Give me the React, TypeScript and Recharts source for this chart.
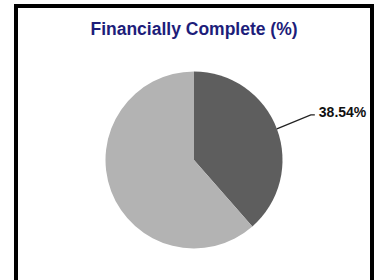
import React from 'react';
import { PieChart, Pie, Cell } from 'recharts';

const title = 'Financially Complete (%)';
const categories = ['Financially Complete', 'Not Financially Complete'];
const values = [38.54, 61.46];
const colors = ['#5e5e5e', '#b3b3b3'];

const data = categories.map((name, i) => ({ name, value: values[i] }));

const RAD = Math.PI / 180;

const renderLabel = (props: any) => {
  const { cx, cy, midAngle, outerRadius, index, value } = props;
  if (index !== 0) return null;
  const sx = cx + outerRadius * Math.cos(-midAngle * RAD);
  const sy = cy + outerRadius * Math.sin(-midAngle * RAD);
  const ex = sx + 34;
  const ey = sy - 14;
  const hx = ex + 4;
  return (
    <g>
      <path d={`M${sx},${sy}L${ex},${ey}L${hx},${ey}`} stroke="#222" strokeWidth={1.3} fill="none" />
      <text x={hx + 4} y={ey + 2} fill="#111" fontSize={14} fontWeight="bold" fontFamily="Liberation Sans, Arial, sans-serif" textAnchor="start">
        {`${value.toFixed(2)}%`}
      </text>
    </g>
  );
};

export default function App() {
  return (
    <div style={{ position: 'absolute', left: 0, top: 0, width: 377, height: 280, background: '#fff', overflow: 'hidden' }}>
      <div style={{ position: 'absolute', left: 14, top: 4, width: 352, height: 300, border: '4px solid #000' }} />
      <div style={{ position: 'absolute', left: 0, top: 19, width: 388, textAlign: 'center', fontFamily: 'Liberation Sans, Arial, sans-serif', fontWeight: 'bold', fontSize: 17.5, color: '#1d1d7a', lineHeight: '20px' }}>
        {title}
      </div>
      <div style={{ position: 'absolute', left: 0, top: 0 }}>
        <PieChart width={377} height={280} margin={{ top: 0, right: 0, bottom: 0, left: 0 }}>
          <Pie
            data={data}
            dataKey="value"
            nameKey="name"
            cx={194}
            cy={160}
            outerRadius={88.5}
            startAngle={90}
            endAngle={-270}
            stroke="none"
            isAnimationActive={false}
            label={renderLabel}
            labelLine={false}
          >
            {data.map((d, i) => (
              <Cell key={d.name} fill={colors[i]} />
            ))}
          </Pie>
        </PieChart>
      </div>
    </div>
  );
}
